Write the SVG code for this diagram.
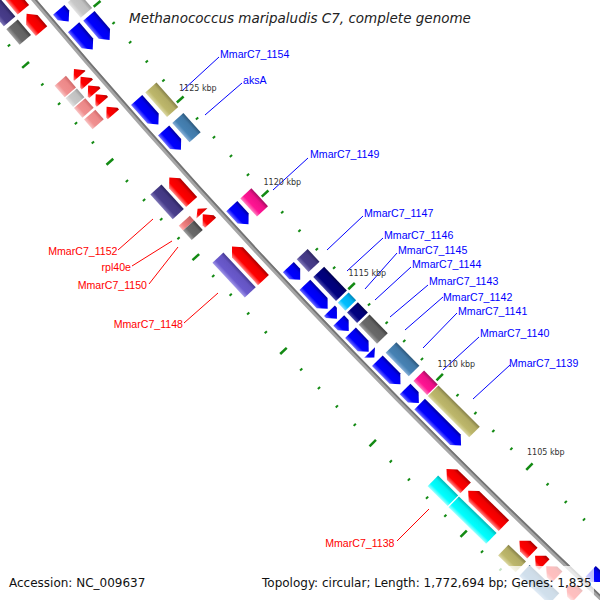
<svg xmlns="http://www.w3.org/2000/svg" width="600" height="600" viewBox="0 0 600 600">
<defs>
<linearGradient id="gRed" x1="0" y1="0" x2="0" y2="1"><stop offset="0" stop-color="#ff8a8a"/><stop offset="0.28" stop-color="#ff0000"/><stop offset="0.75" stop-color="#ee0000"/><stop offset="1" stop-color="#a80000"/></linearGradient>
<linearGradient id="gBlue" x1="0" y1="0" x2="0" y2="1"><stop offset="0" stop-color="#7070ff"/><stop offset="0.28" stop-color="#0000ff"/><stop offset="0.75" stop-color="#0000ee"/><stop offset="1" stop-color="#0000a0"/></linearGradient>
<linearGradient id="gDsb" x1="0" y1="0" x2="0" y2="1"><stop offset="0" stop-color="#8078b8"/><stop offset="0.28" stop-color="#483d8b"/><stop offset="0.75" stop-color="#433882"/><stop offset="1" stop-color="#2c2560"/></linearGradient>
<linearGradient id="gNavy" x1="0" y1="0" x2="0" y2="1"><stop offset="0" stop-color="#4848a8"/><stop offset="0.28" stop-color="#000080"/><stop offset="0.75" stop-color="#000078"/><stop offset="1" stop-color="#000050"/></linearGradient>
<linearGradient id="gSky" x1="0" y1="0" x2="0" y2="1"><stop offset="0" stop-color="#80e0ff"/><stop offset="0.28" stop-color="#00bfff"/><stop offset="0.75" stop-color="#00b0f0"/><stop offset="1" stop-color="#0088bb"/></linearGradient>
<linearGradient id="gGray" x1="0" y1="0" x2="0" y2="1"><stop offset="0" stop-color="#a0a0a0"/><stop offset="0.28" stop-color="#696969"/><stop offset="0.75" stop-color="#626262"/><stop offset="1" stop-color="#404040"/></linearGradient>
<linearGradient id="gSteel" x1="0" y1="0" x2="0" y2="1"><stop offset="0" stop-color="#88b0d8"/><stop offset="0.28" stop-color="#4682b4"/><stop offset="0.75" stop-color="#4179a8"/><stop offset="1" stop-color="#2c587c"/></linearGradient>
<linearGradient id="gPink" x1="0" y1="0" x2="0" y2="1"><stop offset="0" stop-color="#ff80c0"/><stop offset="0.28" stop-color="#ff1493"/><stop offset="0.75" stop-color="#ee1088"/><stop offset="1" stop-color="#a80c62"/></linearGradient>
<linearGradient id="gKhaki" x1="0" y1="0" x2="0" y2="1"><stop offset="0" stop-color="#dcd8a4"/><stop offset="0.28" stop-color="#bdb76b"/><stop offset="0.75" stop-color="#b2ac64"/><stop offset="1" stop-color="#858048"/></linearGradient>
<linearGradient id="gSlate" x1="0" y1="0" x2="0" y2="1"><stop offset="0" stop-color="#a096e8"/><stop offset="0.28" stop-color="#6a5acd"/><stop offset="0.75" stop-color="#6454c2"/><stop offset="1" stop-color="#463a92"/></linearGradient>
<linearGradient id="gCyan" x1="0" y1="0" x2="0" y2="1"><stop offset="0" stop-color="#a0ffff"/><stop offset="0.28" stop-color="#00ffff"/><stop offset="0.75" stop-color="#00f0f0"/><stop offset="1" stop-color="#00b8b8"/></linearGradient>
<linearGradient id="gPale" x1="0" y1="0" x2="0" y2="1"><stop offset="0" stop-color="#f8c4c4"/><stop offset="0.28" stop-color="#f09090"/><stop offset="0.75" stop-color="#ec8888"/><stop offset="1" stop-color="#d06a6a"/></linearGradient>
<linearGradient id="gLgray" x1="0" y1="0" x2="0" y2="1"><stop offset="0" stop-color="#e4e4e4"/><stop offset="0.28" stop-color="#c8c8c8"/><stop offset="0.75" stop-color="#c0c0c0"/><stop offset="1" stop-color="#9a9a9a"/></linearGradient>
<linearGradient id="gCoral" x1="0" y1="0" x2="0" y2="1"><stop offset="0" stop-color="#ffb0b0"/><stop offset="0.28" stop-color="#f08080"/><stop offset="1" stop-color="#c86060"/></linearGradient>
<line id="tmin" x1="0" y1="-1.5" x2="0" y2="1.5"/>
<line id="tmaj" x1="0" y1="-4.5" x2="0" y2="4.5"/>
</defs>
<style>
.tk{stroke:#138a13;stroke-width:2}
.tkM{stroke:#138a13;stroke-width:2.5}
.lb{font-family:"Liberation Sans",Arial,sans-serif;font-size:10.6px}
.bl{fill:#0000ff}
.rd{fill:#ff0000;text-anchor:end}
.cn line{stroke-width:1}
.lnb{stroke:#0000ff}
.lnr{stroke:#ff0000}
.tl{font-family:"DejaVu Sans",sans-serif;font-size:8px;fill:#333333}
.leg{font-family:"DejaVu Sans",sans-serif;font-size:12px;fill:#111111}
</style>
<rect width="600" height="600" fill="#ffffff"/>
<g id="map" transform="translate(5531.7,-4640.8)">
<g id="backbone" fill="none">
<circle r="7194.5" stroke="#a6a6a6" stroke-width="4.5"/>
<circle r="7193" stroke="#747474" stroke-width="1.8"/>
</g>
<g transform="rotate(223.38888)">
<g id="ticks-inner">
<use href="#tmin" class="tk" transform="rotate(-0.203081) translate(0,-7149)"/>
<use href="#tmaj" class="tkM" transform="rotate(0) translate(0,-7149)"/>
<use href="#tmin" class="tk" transform="rotate(0.203081) translate(0,-7149)"/>
<use href="#tmin" class="tk" transform="rotate(0.406162) translate(0,-7149)"/>
<use href="#tmin" class="tk" transform="rotate(0.609242) translate(0,-7149)"/>
<use href="#tmin" class="tk" transform="rotate(0.812323) translate(0,-7149)"/>
<use href="#tmaj" class="tkM" transform="rotate(1.015404) translate(0,-7149)"/>
<use href="#tmin" class="tk" transform="rotate(1.218485) translate(0,-7149)"/>
<use href="#tmin" class="tk" transform="rotate(1.421566) translate(0,-7149)"/>
<use href="#tmin" class="tk" transform="rotate(1.624646) translate(0,-7149)"/>
<use href="#tmin" class="tk" transform="rotate(1.827727) translate(0,-7149)"/>
<use href="#tmaj" class="tkM" transform="rotate(2.030808) translate(0,-7149)"/>
<use href="#tmin" class="tk" transform="rotate(2.233889) translate(0,-7149)"/>
<use href="#tmin" class="tk" transform="rotate(2.436970) translate(0,-7149)"/>
<use href="#tmin" class="tk" transform="rotate(2.640050) translate(0,-7149)"/>
<use href="#tmin" class="tk" transform="rotate(2.843131) translate(0,-7149)"/>
<use href="#tmaj" class="tkM" transform="rotate(3.046212) translate(0,-7149)"/>
<use href="#tmin" class="tk" transform="rotate(3.249293) translate(0,-7149)"/>
<use href="#tmin" class="tk" transform="rotate(3.452374) translate(0,-7149)"/>
<use href="#tmin" class="tk" transform="rotate(3.655454) translate(0,-7149)"/>
<use href="#tmin" class="tk" transform="rotate(3.858535) translate(0,-7149)"/>
<use href="#tmaj" class="tkM" transform="rotate(4.061616) translate(0,-7149)"/>
<use href="#tmin" class="tk" transform="rotate(4.264697) translate(0,-7149)"/>
<use href="#tmin" class="tk" transform="rotate(4.467778) translate(0,-7149)"/>
<use href="#tmin" class="tk" transform="rotate(4.670858) translate(0,-7149)"/>
<use href="#tmin" class="tk" transform="rotate(4.873939) translate(0,-7149)"/>
<use href="#tmaj" class="tkM" transform="rotate(5.077020) translate(0,-7149)"/>
<use href="#tmin" class="tk" transform="rotate(5.280101) translate(0,-7149)"/>
<use href="#tmin" class="tk" transform="rotate(5.483182) translate(0,-7149)"/>
<use href="#tmin" class="tk" transform="rotate(5.686262) translate(0,-7149)"/>
<use href="#tmin" class="tk" transform="rotate(5.889343) translate(0,-7149)"/>
<use href="#tmaj" class="tkM" transform="rotate(6.092424) translate(0,-7149)"/>
<use href="#tmin" class="tk" transform="rotate(6.295505) translate(0,-7149)"/>
</g>
<g id="ticks-outer">
<use href="#tmin" class="tk" transform="rotate(0.203081) translate(0,-7243)"/>
<use href="#tmin" class="tk" transform="rotate(0.406162) translate(0,-7243)"/>
<use href="#tmin" class="tk" transform="rotate(0.609242) translate(0,-7243)"/>
<use href="#tmin" class="tk" transform="rotate(0.812323) translate(0,-7243)"/>
<use href="#tmaj" class="tkM" transform="rotate(1.015404) translate(0,-7243)"/>
<use href="#tmin" class="tk" transform="rotate(1.218485) translate(0,-7243)"/>
<use href="#tmin" class="tk" transform="rotate(1.421566) translate(0,-7243)"/>
<use href="#tmin" class="tk" transform="rotate(1.624646) translate(0,-7243)"/>
<use href="#tmin" class="tk" transform="rotate(1.827727) translate(0,-7243)"/>
<use href="#tmaj" class="tkM" transform="rotate(2.030808) translate(0,-7243)"/>
<use href="#tmin" class="tk" transform="rotate(2.233889) translate(0,-7243)"/>
<use href="#tmin" class="tk" transform="rotate(2.436970) translate(0,-7243)"/>
<use href="#tmin" class="tk" transform="rotate(2.640050) translate(0,-7243)"/>
<use href="#tmin" class="tk" transform="rotate(2.843131) translate(0,-7243)"/>
<use href="#tmaj" class="tkM" transform="rotate(3.046212) translate(0,-7243)"/>
<use href="#tmin" class="tk" transform="rotate(3.249293) translate(0,-7243)"/>
<use href="#tmin" class="tk" transform="rotate(3.452374) translate(0,-7243)"/>
<use href="#tmin" class="tk" transform="rotate(3.655454) translate(0,-7243)"/>
<use href="#tmin" class="tk" transform="rotate(3.858535) translate(0,-7243)"/>
<use href="#tmaj" class="tkM" transform="rotate(4.061616) translate(0,-7243)"/>
<use href="#tmin" class="tk" transform="rotate(4.264697) translate(0,-7243)"/>
<use href="#tmin" class="tk" transform="rotate(4.467778) translate(0,-7243)"/>
<use href="#tmin" class="tk" transform="rotate(4.670858) translate(0,-7243)"/>
<use href="#tmin" class="tk" transform="rotate(4.873939) translate(0,-7243)"/>
<use href="#tmaj" class="tkM" transform="rotate(5.077020) translate(0,-7243)"/>
<use href="#tmin" class="tk" transform="rotate(5.280101) translate(0,-7243)"/>
<use href="#tmin" class="tk" transform="rotate(5.483182) translate(0,-7243)"/>
<use href="#tmin" class="tk" transform="rotate(5.686262) translate(0,-7243)"/>
<use href="#tmin" class="tk" transform="rotate(5.889343) translate(0,-7243)"/>
<use href="#tmaj" class="tkM" transform="rotate(6.092424) translate(0,-7243)"/>
<use href="#tmin" class="tk" transform="rotate(6.295505) translate(0,-7243)"/>
<use href="#tmin" class="tk" transform="rotate(6.498586) translate(0,-7243)"/>
<use href="#tmin" class="tk" transform="rotate(6.701666) translate(0,-7243)"/>
</g>
<g id="forward-genes">
<g id="fwd-top1"><path fill="url(#gRed)" transform="rotate(6.437661) translate(0,-7216.5)" d="M0,0H35.4L43.4,7.5L35.4,15H0Z"/><rect fill="url(#gDsb)" transform="rotate(6.437661) translate(0,-7234.5)" width="43.6" height="15"/></g>
<g id="fwd-top2"><path fill="url(#gRed)" transform="rotate(6.214272) translate(0,-7216.5)" d="M0,0H15L23,7.5L15,15H0Z"/><rect fill="url(#gGray)" transform="rotate(6.244735) translate(0,-7234.5)" width="20.5" height="15"/></g>
<g id="fwd-c1"><path fill="url(#gRed)" transform="rotate(5.747187) translate(0,-7216.5)" d="M0,0H0.9L8.9,7.5L0.9,15H0Z"/><rect fill="url(#gPale)" transform="rotate(5.696416) translate(0,-7234.5)" width="15.4" height="15"/></g>
<g id="fwd-c2"><path fill="url(#gRed)" transform="rotate(5.655800) translate(0,-7216.5)" d="M0,0H2.2L10.2,7.5L2.2,15H0Z"/><rect fill="url(#gLgray)" transform="rotate(5.594876) translate(0,-7234.5)" width="11.5" height="15"/></g>
<g id="fwd-c3"><path fill="url(#gRed)" transform="rotate(5.564414) translate(0,-7216.5)" d="M0,0H2.2L10.2,7.5L2.2,15H0Z"/><rect fill="url(#gPale)" transform="rotate(5.483182) translate(0,-7234.5)" width="12.8" height="15"/></g>
<g id="fwd-c4"><path fill="url(#gRed)" transform="rotate(5.473028) translate(0,-7216.5)" d="M0,0H2.2L10.2,7.5L2.2,15H0Z"/></g>
<g id="fwd-c5"><path fill="url(#gRed)" transform="rotate(5.341025) translate(0,-7216.5)" d="M0,0H2.2L10.2,7.5L2.2,15H0Z"/><rect fill="url(#gPale)" transform="rotate(5.361333) translate(0,-7234.5)" width="12.8" height="15"/></g>
<g id="MmarC7_1152"><path fill="url(#gRed)" transform="rotate(4.406853) translate(0,-7216.5)" d="M0,0H25.2L33.2,7.5L25.2,15H0Z"/><rect fill="url(#gDsb)" transform="rotate(4.406853) translate(0,-7234.5)" width="33.3" height="15"/></g>
<g id="rpl40e"><path fill="url(#gRed)" transform="rotate(4.285005) translate(0,-7216.5)" d="M0,0L6.4,7.5L0,15Z"/><rect fill="url(#gCoral)" transform="rotate(4.285005) translate(0,-7234.5)" width="6.4" height="15"/></g>
<g id="MmarC7_1150"><path fill="url(#gRed)" transform="rotate(4.183464) translate(0,-7216.5)" d="M0,0H3.5L11.5,7.5L3.5,15H0Z"/><rect fill="url(#gGray)" transform="rotate(4.183464) translate(0,-7234.5)" width="12.8" height="15"/></g>
<g id="MmarC7_1148"><path fill="url(#gRed)" transform="rotate(3.564068) translate(0,-7216.5)" d="M0,0H38L46,7.5L38,15H0Z"/><rect fill="url(#gSlate)" transform="rotate(3.564068) translate(0,-7234.5)" width="47.4" height="15"/></g>
<g id="MmarC7_1138"><path fill="url(#gRed)" transform="rotate(1.259101) translate(0,-7216.5)" d="M0,0H18.8L26.8,7.5L18.8,15H0Z"/><rect fill="url(#gCyan)" transform="rotate(1.259101) translate(0,-7234.5)" width="28.2" height="15"/></g>
<g id="fwd-1137"><path fill="url(#gRed)" transform="rotate(0.832631) translate(0,-7216.5)" d="M0,0H41.8L49.8,7.5L41.8,15H0Z"/><rect fill="url(#gCyan)" transform="rotate(0.832631) translate(0,-7234.5)" width="52.5" height="15"/></g>
<g id="fwd-b1"><path fill="url(#gRed)" transform="rotate(0.517856) translate(0,-7216.5)" d="M0,0H9.9L17.9,7.5L9.9,15H0Z"/><rect fill="url(#gKhaki)" transform="rotate(0.507702) translate(0,-7234.5)" width="24.3" height="15"/></g>
<g id="fwd-b2"><path fill="url(#gRed)" transform="rotate(0.385854) translate(0,-7216.5)" d="M0,0H4.8L12.8,7.5L4.8,15H0Z"/></g>
<g id="fwd-b3"><path fill="url(#gRed)" transform="rotate(0.243697) translate(0,-7216.5)" d="M0,0H7.3L15.3,7.5L7.3,15H0Z"/><rect fill="url(#gSteel)" transform="rotate(0.142157) translate(0,-7234.5)" width="41" height="15"/></g>
<g id="fwd-b4"><path fill="url(#gRed)" transform="rotate(0.020308) translate(0,-7216.5)" d="M0,0H7.3L15.3,7.5L7.3,15H0Z"/></g>
</g>
<g id="reverse-genes">
<g id="rev-top1"><path fill="url(#gBlue)" transform="rotate(6.133040) translate(0,-7189.5)" d="M0,7.5L8,0H15.3V15H8Z"/><rect fill="url(#gLgray)" transform="rotate(6.092424) translate(0,-7170.5)" width="20.3" height="15"/></g>
<g id="rev-top2"><path fill="url(#gBlue)" transform="rotate(5.838573) translate(0,-7189.5)" d="M0,7.5L8,0H29.3V15H8Z"/><path fill="url(#gBlue)" transform="rotate(5.808111) translate(0,-7170.5)" d="M0,7.5L8,0H31.7V15H8Z"/></g>
<g id="MmarC7_1154"><path fill="url(#gBlue)" transform="rotate(5.042496) translate(0,-7189.5)" d="M0,7.5L8,0H32.8V15H8Z"/><rect fill="url(#gKhaki)" transform="rotate(5.042496) translate(0,-7170.5)" width="32.8" height="15"/></g>
<g id="aksA"><path fill="url(#gBlue)" transform="rotate(4.772399) translate(0,-7189.5)" d="M0,7.5L8,0H26V15H8Z"/><rect fill="url(#gSteel)" transform="rotate(4.772399) translate(0,-7170.5)" width="25.9" height="15"/></g>
<g id="MmarC7_1149"><path fill="url(#gBlue)" transform="rotate(3.970230) translate(0,-7189.5)" d="M0,7.5L8,0H24.7V15H8Z"/><rect fill="url(#gPink)" transform="rotate(3.970230) translate(0,-7170.5)" width="24.6" height="15"/></g>
<g id="MmarC7_1147"><path fill="url(#gBlue)" transform="rotate(3.365049) translate(0,-7189.5)" d="M0,7.5L8,0H17.3V15H8Z"/><rect fill="url(#gDsb)" transform="rotate(3.365049) translate(0,-7170.5)" width="17.3" height="15"/></g>
<g id="MmarC7_1146"><path fill="url(#gBlue)" transform="rotate(3.046212) translate(0,-7189.5)" d="M0,7.5L8,0H33.1V15H8Z"/><rect fill="url(#gNavy)" transform="rotate(3.046212) translate(0,-7170.5)" width="33" height="15"/></g>
<g id="MmarC7_1145"><path fill="url(#gBlue)" transform="rotate(2.938579) translate(0,-7189.5)" d="M0,7.5L8,0H10.9V15H8Z"/><rect fill="url(#gSky)" transform="rotate(2.938579) translate(0,-7170.5)" width="10.9" height="15"/></g>
<g id="MmarC7_1144"><path fill="url(#gBlue)" transform="rotate(2.802515) translate(0,-7189.5)" d="M0,7.5L8,0H14.5V15H8Z"/><rect fill="url(#gNavy)" transform="rotate(2.802515) translate(0,-7170.5)" width="14.5" height="15"/></g>
<g id="MmarC7_1143"><path fill="url(#gBlue)" transform="rotate(2.573034) translate(0,-7189.5)" d="M0,7.5L8,0H26.2V15H8Z"/><rect fill="url(#gGray)" transform="rotate(2.573034) translate(0,-7170.5)" width="26.2" height="15"/></g>
<g id="MmarC7_1142"><path fill="url(#gBlue)" transform="rotate(2.508048) translate(0,-7189.5)" d="M0,7.5L6.9,0V15Z"/></g>
<g id="MmarC7_1141"><path fill="url(#gBlue)" transform="rotate(2.209519) translate(0,-7189.5)" d="M0,7.5L8,0H33.1V15H8Z"/><rect fill="url(#gSteel)" transform="rotate(2.209519) translate(0,-7170.5)" width="33" height="15"/></g>
<g id="MmarC7_1140"><path fill="url(#gBlue)" transform="rotate(2.000346) translate(0,-7189.5)" d="M0,7.5L8,0H19.6V15H8Z"/><rect fill="url(#gPink)" transform="rotate(2.000346) translate(0,-7170.5)" width="19.5" height="15"/></g>
<g id="MmarC7_1139"><path fill="url(#gBlue)" transform="rotate(1.523106) translate(0,-7189.5)" d="M0,7.5L8,0H58.5V15H8Z"/><rect fill="url(#gKhaki)" transform="rotate(1.523106) translate(0,-7170.5)" width="58.4" height="15"/></g>
<g id="rev-bottom"><path fill="url(#gBlue)" transform="rotate(-0.040616) translate(0,-7189.5)" d="M0,7.5L8,0H15.3V15H8Z"/></g>
</g>
</g>
</g>
<g id="connectors" class="cn">
<line class="lnb" x1="219" y1="57" x2="182" y2="91"/>
<line class="lnb" x1="242" y1="83" x2="205" y2="115"/>
<line class="lnb" x1="308" y1="158" x2="273" y2="190"/>
<line class="lnb" x1="363" y1="216" x2="327" y2="250"/>
<line class="lnb" x1="383" y1="238" x2="347" y2="271"/>
<line class="lnb" x1="397" y1="253" x2="365" y2="289"/>
<line class="lnb" x1="411" y1="267" x2="375" y2="300"/>
<line class="lnb" x1="428" y1="285" x2="390" y2="317"/>
<line class="lnb" x1="443" y1="297" x2="405" y2="330"/>
<line class="lnb" x1="457" y1="313" x2="423" y2="348"/>
<line class="lnb" x1="479" y1="337" x2="443" y2="370"/>
<line class="lnb" x1="510" y1="365" x2="473" y2="399"/>
<line class="lnr" x1="118" y1="250" x2="153" y2="219"/>
<line class="lnr" x1="132" y1="266" x2="172" y2="241"/>
<line class="lnr" x1="149" y1="284" x2="178" y2="247"/>
<line class="lnr" x1="184" y1="323" x2="218" y2="293"/>
<line class="lnr" x1="397" y1="541" x2="429" y2="509"/>
</g>
<g id="labels">
<text class="lb bl" x="220" y="58">MmarC7_1154</text>
<text class="lb bl" x="243" y="84">aksA</text>
<text class="lb bl" x="310" y="158">MmarC7_1149</text>
<text class="lb bl" x="364" y="217">MmarC7_1147</text>
<text class="lb bl" x="384" y="239">MmarC7_1146</text>
<text class="lb bl" x="398" y="253.5">MmarC7_1145</text>
<text class="lb bl" x="412" y="268">MmarC7_1144</text>
<text class="lb bl" x="429" y="285">MmarC7_1143</text>
<text class="lb bl" x="443" y="300.5">MmarC7_1142</text>
<text class="lb bl" x="458" y="315">MmarC7_1141</text>
<text class="lb bl" x="480" y="336.5">MmarC7_1140</text>
<text class="lb bl" x="509" y="366.5">MmarC7_1139</text>
<text class="lb rd" x="117.5" y="255">MmarC7_1152</text>
<text class="lb rd" x="131" y="271">rpl40e</text>
<text class="lb rd" x="147" y="289">MmarC7_1150</text>
<text class="lb rd" x="183" y="328">MmarC7_1148</text>
<text class="lb rd" x="394.5" y="546.5">MmarC7_1138</text>
</g>
<g id="tick-labels" class="tl">
<text x="179" y="90.5">1125 kbp</text>
<text x="263.5" y="184.5">1120 kbp</text>
<text x="348.5" y="276.3">1115 kbp</text>
<text x="437.5" y="367">1110 kbp</text>
<text x="527" y="455.3">1105 kbp</text>
</g>
<text id="title" x="129" y="23" font-family="DejaVu Sans, sans-serif" font-size="13.5" font-style="italic" fill="#222222">Methanococcus maripaludis C7, complete genome</text>
<g id="legend">
<rect x="255" y="566" width="339" height="34" fill="#ffffff" fill-opacity="0.75"/>
<text class="leg" x="9" y="586.5">Accession: NC_009637</text>
<text class="leg" x="262" y="586.5">Topology: circular; Length: 1,772,694 bp; Genes: 1,835</text>
</g>
</svg>
